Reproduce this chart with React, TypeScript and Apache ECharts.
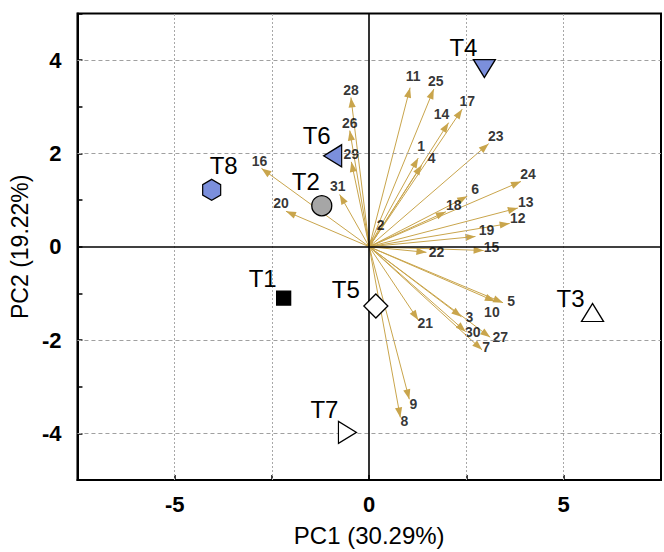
import React, { useEffect, useRef } from "react";
import * as echarts from "echarts";

// Variable loadings (arrow tips)
const varNames = ["1","2","3","4","5","6","7","8","9","10","11","12","13","14","15","16","17","18","19","20","21","22","23","24","25","26","27","28","29","30","31"];
const varX = [1.26, 0.09, 2.37, 1.35, 3.44, 2.52, 2.90, 0.80, 1.03, 3.23, 1.05, 3.61, 3.82, 2.04, 2.94, -2.77, 2.39, 1.97, 2.73, -2.14, 1.26, 1.47, 3.07, 3.90, 1.66, -0.50, 3.11, -0.47, -0.46, 2.48, -0.76];
const varY = [1.90, 0.20, -1.50, 1.75, -1.20, 1.08, -2.21, -3.66, -3.27, -1.17, 3.41, 0.50, 0.83, 2.66, -0.08, 1.68, 2.95, 0.75, 0.22, 0.76, -1.57, -0.12, 2.21, 1.40, 3.38, 2.49, -1.94, 3.20, 1.82, -1.82, 1.12];

// Treatment scores
const treatNames = ["T1", "T2", "T3", "T4", "T5", "T6", "T7", "T8"];
const treatX = [-2.20, -1.22, 5.74, 2.96, 0.17, -0.94, -0.56, -4.05];
const treatY = [-1.10, 0.88, -1.41, 3.82, -1.27, 1.95, -3.98, 1.22];

// Axis ticks
const xLabelTicks = [-5, 0, 5];
const yLabelTicks = [-4, -2, 0, 2, 4];
const xGridLines = [-5, -2.5, 2.5, 5];
const yGridLines = [-4, -2, 2, 4];

// Label offsets (styling)
const varLabelOffsets: number[][] = [
  [3, -12], [8, -12], [8, 0], [10, -7], [8, -2], [8, -7], [4, -3], [4, 4], [4, 5], [-3, 11],
  [3, -12], [8, -5], [8, -6], [-7, -9], [8, -3], [-2, -7], [5, -8], [8, -7], [11, -6], [-5, -8],
  [7, 3], [10, 0], [7, -8], [7, -7], [2, -8], [0, -8], [10, 0], [0, -7], [0, -8], [7, 0], [-2, -9],
];

const BLUE = "#7b8fdc";
const treatStyles: any[] = [
  { symbol: "rect", size: 14, rotate: 0, color: "#000000", off: [-21, -20] },
  { symbol: "circle", size: 20, rotate: 0, color: "#a6a6a6", off: [-16, -24] },
  { symbol: "triangle", size: [22, 18], rotate: 0, color: "#ffffff", off: [-22, -14] },
  { symbol: "triangle", size: [22, 18], rotate: 180, color: BLUE, off: [-21, -21] },
  { symbol: "diamond", size: [24, 24], rotate: 0, color: "#ffffff", off: [-30, -16] },
  { symbol: "triangle", size: [22, 18], rotate: 90, color: BLUE, off: [-16, -20] },
  { symbol: "triangle", size: [22, 18], rotate: -90, color: "#ffffff", off: [-23, -23] },
  { symbol: "path://M0,-1 L0.866,-0.5 L0.866,0.5 L0,1 L-0.866,0.5 L-0.866,-0.5 Z", size: [18, 21], rotate: 0, color: BLUE, off: [12, -24] },
];

const ARROW = "#c9a54c";
const FONT = "'Liberation Sans', Arial, Helvetica, sans-serif";

export default function App() {
  const ref = useRef<HTMLDivElement>(null);
  useEffect(() => {
    if (!ref.current) return;
    const chart = echarts.init(ref.current, undefined, { renderer: "svg" });

    const gridLineData: any[] = [];
    xGridLines.forEach((v) =>
      gridLineData.push({ xAxis: v, lineStyle: { color: "#a8a8a8", type: [2, 2], width: 1 } })
    );
    yGridLines.forEach((v) =>
      gridLineData.push({ yAxis: v, lineStyle: { color: "#a0a0a0", type: [4, 3], width: 1 } })
    );
    gridLineData.push({ xAxis: 0, lineStyle: { color: "#000", type: "solid", width: 1.6 } });
    gridLineData.push({ yAxis: 0, lineStyle: { color: "#000", type: "solid", width: 1.6 } });

    const treatSeries = treatNames.map((name, i) => {
      const st = treatStyles[i];
      return {
        type: "scatter",
        name,
        z: 5,
        symbol: st.symbol,
        symbolSize: st.size,
        symbolRotate: st.rotate,
        itemStyle: { color: st.color, borderColor: "#000", borderWidth: 1.3, opacity: 1 },
        label: {
          show: true,
          position: "inside",
          offset: st.off,
          formatter: name,
          color: "#000",
          fontSize: 24,
          fontFamily: FONT,
        },
        data: [[treatX[i], treatY[i]]],
      };
    });

    const option: any = {
      animation: false,
      backgroundColor: "#ffffff",
      grid: {
        left: 75,
        top: 13.5,
        width: 596,
        height: 471.5,
        show: true,
        borderColor: "#000",
        borderWidth: 2,
        backgroundColor: "transparent",
      },
      xAxis: {
        type: "value",
        min: -7.5,
        max: 7.5,
        interval: 2.5,
        axisLine: { show: true, onZero: false, lineStyle: { color: "#000", width: 2 } },
        axisTick: { show: true, inside: true, length: 5, lineStyle: { color: "#000", width: 1.5 } },
        axisLabel: {
          show: true,
          margin: 13,
          color: "#000",
          fontSize: 22,
          fontWeight: "bold",
          fontFamily: FONT,
          formatter: (v: number) => (xLabelTicks.includes(v) ? String(v) : ""),
        },
        splitLine: { show: false },
        name: "PC1 (30.29%)",
        nameLocation: "middle",
        nameGap: 43,
        nameTextStyle: { color: "#000", fontSize: 24, fontFamily: FONT },
      },
      yAxis: {
        type: "value",
        min: -5,
        max: 5,
        interval: 1,
        axisLine: { show: true, onZero: false, lineStyle: { color: "#000", width: 2 } },
        axisTick: { show: true, inside: true, length: 5, lineStyle: { color: "#000", width: 1.5 } },
        axisLabel: {
          show: true,
          margin: 16,
          color: "#000",
          fontSize: 22,
          fontWeight: "bold",
          fontFamily: FONT,
          formatter: (v: number) => (yLabelTicks.includes(v) ? String(v) : ""),
        },
        splitLine: { show: false },
        name: "PC2 (19.22%)",
        nameLocation: "middle",
        nameGap: 44,
        nameRotate: 90,
        nameTextStyle: { color: "#000", fontSize: 23, fontFamily: FONT },
      },
      series: [
        {
          type: "scatter",
          name: "grid",
          z: 1,
          silent: true,
          symbolSize: 0,
          data: [],
          markLine: {
            silent: true,
            symbol: "none",
            label: { show: false },
            animation: false,
            data: gridLineData,
          },
        },
        {
          type: "lines",
          name: "arrows",
          coordinateSystem: "cartesian2d",
          z: 3,
          silent: true,
          symbol: ["none", "path://M-10,0 M10,0 M0,10 L3.6,20 L-3.6,20 Z"],
          symbolSize: [0, 20],
          lineStyle: { color: ARROW, width: 1, opacity: 1, curveness: 0 },
          itemStyle: { color: ARROW },
          data: varNames.map((_, i) => ({ coords: [[0, 0], [varX[i], varY[i]]] })),
        },
        {
          type: "scatter",
          name: "varLabels",
          z: 4,
          silent: true,
          symbolSize: 1,
          itemStyle: { color: "rgba(0,0,0,0)" },
          label: {
            show: true,
            position: "inside",
            color: "#000",
            fontSize: 14,
            fontWeight: "bold",
            fontFamily: FONT,
            formatter: (p: any) => varNames[p.dataIndex],
          },
          data: varNames.map((_, i) => ({
            value: [varX[i], varY[i]],
            label: { offset: varLabelOffsets[i] },
          })),
        },
        ...treatSeries,
      ],
    };
    chart.setOption(option);
    return () => chart.dispose();
  }, []);

  return (
    <div
      ref={ref}
      style={{ position: "absolute", left: 0, top: 0, width: 664, height: 552, background: "#fff" }}
    />
  );
}
